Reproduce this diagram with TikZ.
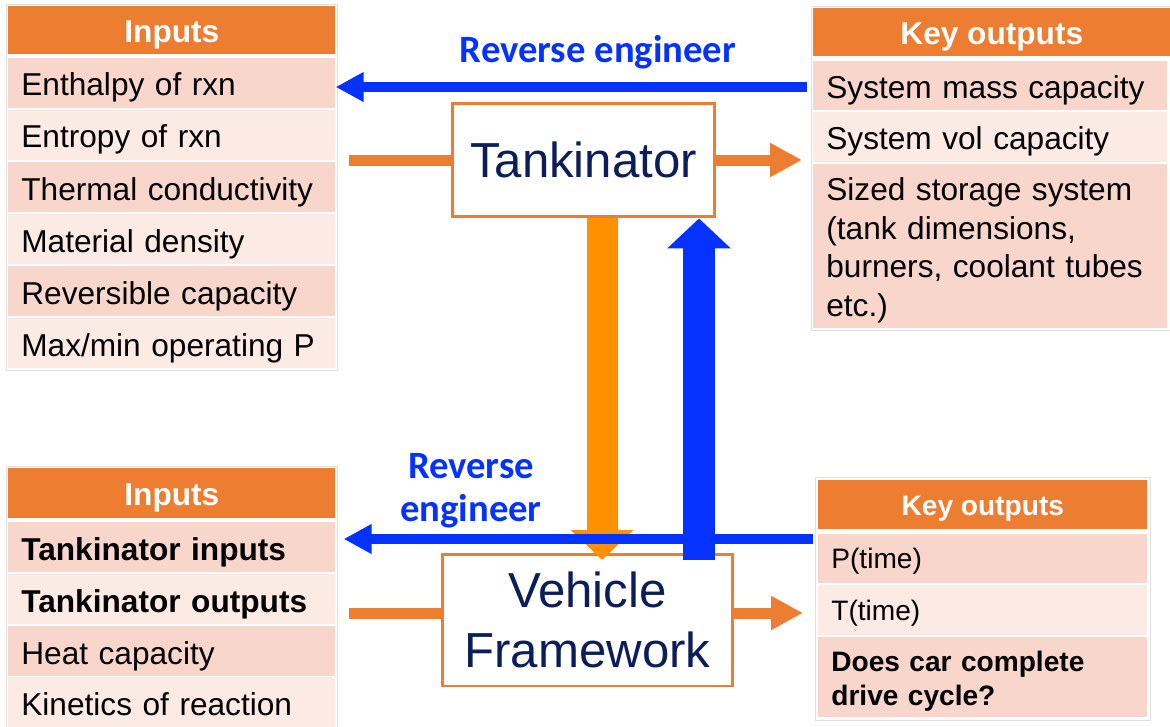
\documentclass[tikz,border=0pt]{standalone}
\usepackage{fontspec}
\setmainfont{Liberation Sans}
\newfontfamily\calibfont{Carlito}
\usetikzlibrary{arrows.meta,positioning}
\definecolor{hdrorange}{RGB}{237,125,49}
\definecolor{rowdark}{RGB}{248,214,203}
\definecolor{rowlight}{RGB}{252,234,229}
\definecolor{revblue}{RGB}{5,50,255}
\definecolor{downorange}{RGB}{255,145,0}
\definecolor{boxnavy}{RGB}{12,30,90}
\tikzset{
  cell/.style={anchor=north west, inner xsep=0.26cm, inner ysep=0pt, align=left, text width=#1,
               minimum height=1cm, font=\fontsize{18}{22}\selectfont},
  oneline/.style={text height=#1, text depth=0pt},
  oneline/.default=14.4pt,
  hdr/.style={anchor=north west, fill=hdrorange, text=white, inner sep=0pt, minimum width=#1,
              minimum height=0.96cm, font=\bfseries\fontsize{18}{22}\selectfont, oneline=14pt},
  rowd/.style={cell=#1, fill=rowdark},
  rowl/.style={cell=#1, fill=rowlight},
  tblframe/.style={draw=black!12, line width=0.5pt},
  model/.style={draw=hdrorange, line width=1.7pt, fill=white, text=boxnavy, align=center,
                font=\fontsize{28}{34}\selectfont},
  revlbl/.style={text=revblue, align=center, font=\calibfont\bfseries\fontsize{22}{24.5}\selectfont},
  hblue/.style={draw=revblue, line width=0.2cm, -{Triangle[width=0.56cm,length=0.56cm]}},
  horange/.style={draw=hdrorange, line width=0.22cm},
  horangetip/.style={horange, -{Triangle[width=0.64cm,length=0.64cm]}},
  vorange/.style={draw=downorange, line width=0.62cm, -{Triangle[width=1.22cm,length=0.6cm]}},
  vblue/.style={draw=revblue, line width=0.64cm, -{Triangle[width=1.24cm,length=0.6cm]}}
}
\begin{document}
\begin{tikzpicture}[x=0.02cm,y=-0.02cm]
  \useasboundingbox (0,0) rectangle (1170,727);
  % Tankinator inputs
  \draw[tblframe] (6,4) rectangle (337,370);
  \node[hdr=6.54cm] (tli)  at (8,6)   {Inputs};
  \node[rowd=6.02cm, oneline] (tli1) at (8,58)  {Enthalpy of rxn};
  \node[rowl=6.02cm, oneline] (tli2) at (8,110) {Entropy of rxn};
  \node[rowd=6.02cm, oneline] (tli3) at (8,162) {Thermal conductivity};
  \node[rowl=6.02cm, oneline] (tli4) at (8,214) {Material density};
  \node[rowd=6.02cm, oneline] (tli5) at (8,266) {Reversible capacity};
  \node[rowl=6.02cm, oneline] (tli6) at (8,318) {Max/min operating P};
  % Tankinator outputs
  \draw[tblframe] (811,6) rectangle (1172,330);
  \node[hdr=7.14cm] (tro)  at (813,8)   {Key outputs};
  \node[rowd=6.56cm, oneline, minimum height=0.98cm] (tro1) at (813,61)  {System mass capacity};
  \node[rowl=6.56cm, oneline] (tro2) at (813,112) {System vol capacity};
  \node[rowd=6.56cm, minimum height=3.28cm, text height=17.6pt] (tro3) at (813,164)
    {Sized storage system\\(tank dimensions,\\burners, coolant tubes\\etc.)};
  % Vehicle inputs
  \draw[tblframe] (6,466) rectangle (337,730);
  \node[hdr=6.54cm, minimum height=1cm] (bli)  at (8,468) {Inputs};
  \node[rowd=6.02cm, oneline] (bli1) at (8,522) {\bfseries Tankinator inputs};
  \node[rowl=6.02cm, oneline] (bli2) at (8,574) {\bfseries Tankinator outputs};
  \node[rowd=6.02cm, oneline] (bli3) at (8,626) {Heat capacity};
  \node[rowl=6.02cm, oneline] (bli4) at (8,677) {Kinetics of reaction};
  % Vehicle outputs
  \draw[tblframe] (815,477) rectangle (1150,720);
  \node[hdr=6.58cm, minimum height=0.98cm, font=\bfseries\fontsize{16}{19}\selectfont, oneline=12pt] (bro) at (818,480) {Key outputs};
  \node[rowd=6.06cm, oneline=11.2pt, minimum height=0.98cm, font=\fontsize{16}{19}\selectfont] (bro1) at (818,534) {P(time)};
  \node[rowl=6.06cm, oneline=11.2pt, font=\fontsize{16}{19}\selectfont] (bro2) at (818,585) {T(time)};
  \node[rowd=6.06cm, minimum height=1.6cm, text height=16pt, font=\bfseries\fontsize{16}{19}\selectfont] (bro3) at (818,637)
    {Does car complete\\drive cycle?};
  % models
  \node[model, minimum width=5.26cm, minimum height=2.28cm] (tank) at (583.5,160) {Tankinator};
  \node[model, minimum width=5.82cm, minimum height=2.64cm] (veh)  at (587.5,620) {Vehicle\\Framework};
  % labels
  \node[revlbl] (rev1) at (598,52)  {Reverse engineer};
  \node[revlbl] (rev2) at (471,491) {Reverse\\engineer};
  % flows
  \coordinate (tin)   at (349,160);
  \coordinate (tout)  at (802,160);
  \coordinate (vin)   at (349,613);
  \coordinate (vout)  at (803,613);
  \coordinate (vdown) at (602,560);
  \coordinate (vup)   at (699,560);
  \coordinate (back)  at (813,539);
  \draw[horange] (tin) -- (tank.west);
  \draw[horangetip] (tank.east) -- (tout);
  \draw[horange] (vin) -- (vin -| veh.west);
  \draw[horangetip] (vout -| veh.east) -- (vout);
  \draw[hblue] ([xshift=-0.12cm]tro1.west |- 0,87) -- (tli1.east |- 0,87);
  \draw[vorange] (tank.south -| vdown) -- (vdown);
  \draw[hblue, shorten >=0.16cm] (back) -- (back -| bli1.east);
  \draw[vblue] (vup) -- (tank.south -| vup);
\end{tikzpicture}
\end{document}
